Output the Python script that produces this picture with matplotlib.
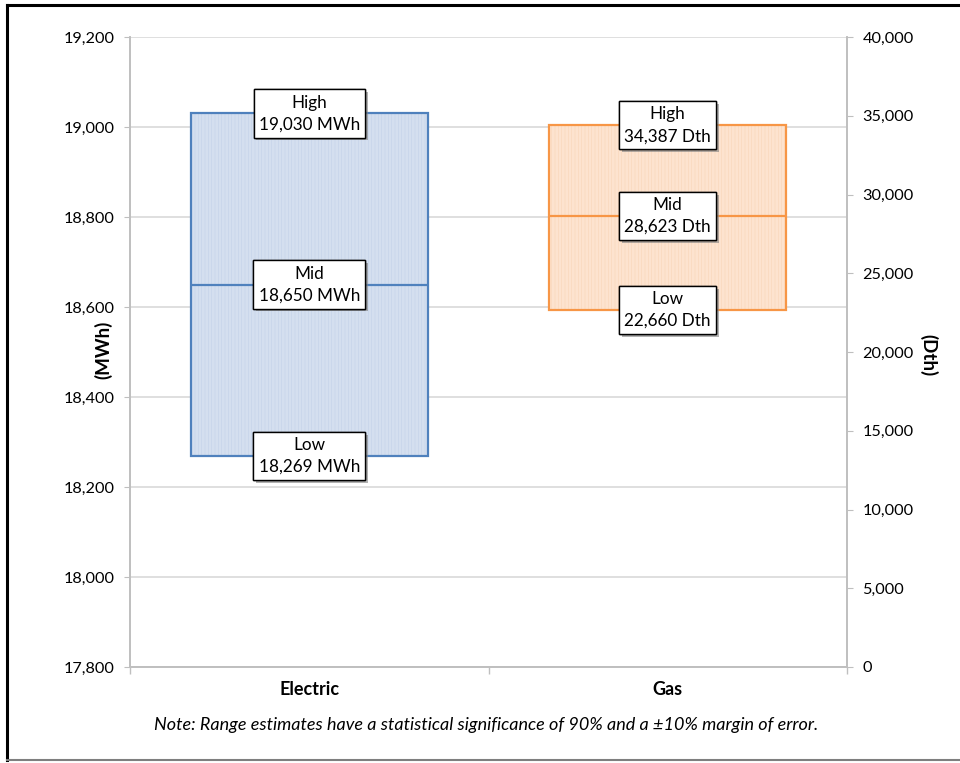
import matplotlib
matplotlib.use("Agg")
import matplotlib.pyplot as plt
import matplotlib.patheffects as pe
from matplotlib.lines import Line2D
from matplotlib.ticker import FuncFormatter

plt.rcParams['font.family'] = ['Lato', 'DejaVu Sans']
plt.rcParams['hatch.linewidth'] = 0.4

categories = ['Electric', 'Gas']
electric = {'Low': 18269, 'Mid': 18650, 'High': 19030}
gas = {'Low': 22660, 'Mid': 28623, 'High': 34387}
units = ['MWh', 'Dth']
left_ticks = list(range(17800, 19201, 200))
right_ticks = list(range(0, 40001, 5000))

edge_colors = ['#4f81bd', '#f79646']
fill_colors = ['#d4dfef', '#fde3cf']
hatch_colors = ['#c3d2e9', '#f9d6b9']
grey = '#bfbfbf'

W, H = 960, 763
fig = plt.figure(figsize=(W / 100, H / 100), dpi=100)
ax = fig.add_axes([130 / W, 96 / H, 717 / W, 630 / H])
ax2 = ax.twinx()

ax.set_xlim(-0.5, 1.5)
ax.set_ylim(17800, 19200)
ax2.set_ylim(0, 40000)

comma = FuncFormatter(lambda v, p: f'{int(v):,}')
ax.set_yticks(left_ticks)
ax.yaxis.set_major_formatter(comma)
ax2.set_yticks(right_ticks)
ax2.yaxis.set_major_formatter(comma)
ax.yaxis.grid(True, color='#d9d9d9', linewidth=1.2)
ax.set_axisbelow(True)

# category axis: ticks on the boundaries, labels in the middle
ax.set_xticks([-0.5, 0.5, 1.5])
ax.set_xticklabels([])
ax.set_xticks([0, 1], minor=True)
ax.set_xticklabels(categories, minor=True, fontweight='bold', fontsize=13)
ax.tick_params(axis='x', which='minor', length=0, pad=10)
ax.tick_params(axis='x', which='major', length=5, color=grey, width=1)
ax.tick_params(axis='y', length=4, color=grey, labelsize=11.7, pad=7)
ax2.tick_params(axis='y', length=4, color=grey, labelsize=11.7, pad=7)

for a in (ax, ax2):
    a.spines['top'].set_visible(False)
    for s in ('left', 'right', 'bottom'):
        a.spines[s].set_color(grey)
        a.spines[s].set_linewidth(1.2)

width = 0.66
for i, (axis, vals) in enumerate([(ax, electric), (ax2, gas)]):
    low, mid, high = vals['Low'], vals['Mid'], vals['High']
    axis.bar(i, high - low, width, bottom=low, color=fill_colors[i],
             edgecolor=hatch_colors[i], hatch='|||||', linewidth=0, zorder=2)
    axis.bar(i, high - low, width, bottom=low, fill=False,
             edgecolor=edge_colors[i], linewidth=1.6, zorder=3)
    axis.hlines(mid, i - width / 2, i + width / 2, color=edge_colors[i],
                linewidth=1.6, zorder=3)
    for name in ('High', 'Mid', 'Low'):
        t = axis.text(i, vals[name], f'{name}\n{vals[name]:,} {units[i]}',
                      ha='center', va='center', fontsize=12.3, zorder=5,
                      linespacing=1.45,
                      bbox=dict(boxstyle='square,pad=0.3', fc='white',
                                ec='black', lw=1.0))
        t.get_bbox_patch().set_path_effects(
            [pe.withSimplePatchShadow(offset=(2, -2), shadow_rgbFace='#7f7f7f',
                                      alpha=0.6), pe.Normal()])

fig.text(103 / W, 1 - 350 / H, f'({units[0]})', rotation=90, fontweight='bold',
         fontsize=13.5, ha='center', va='center')
fig.text(928 / W, 1 - 355 / H, f'({units[1]})', rotation=270, fontweight='bold',
         fontsize=13.5, ha='center', va='center')
fig.text(486 / W, 1 - 725 / H,
         'Note: Range estimates have a statistical significance of 90% and a \u00b110% margin of error.',
         style='italic', fontsize=13, ha='center', va='center')

# outer frame
fig.add_artist(Line2D([7 / W, 1], [1 - 5 / H, 1 - 5 / H], color='black', linewidth=2.2))
fig.add_artist(Line2D([7 / W, 7 / W], [1 - 5 / H, 1 - 760 / H], color='black', linewidth=2.2))
fig.add_artist(Line2D([7 / W, 1], [1 - 760 / H, 1 - 760 / H], color='#7f7f7f', linewidth=1.5))

fig.savefig('out.png', dpi=100)
